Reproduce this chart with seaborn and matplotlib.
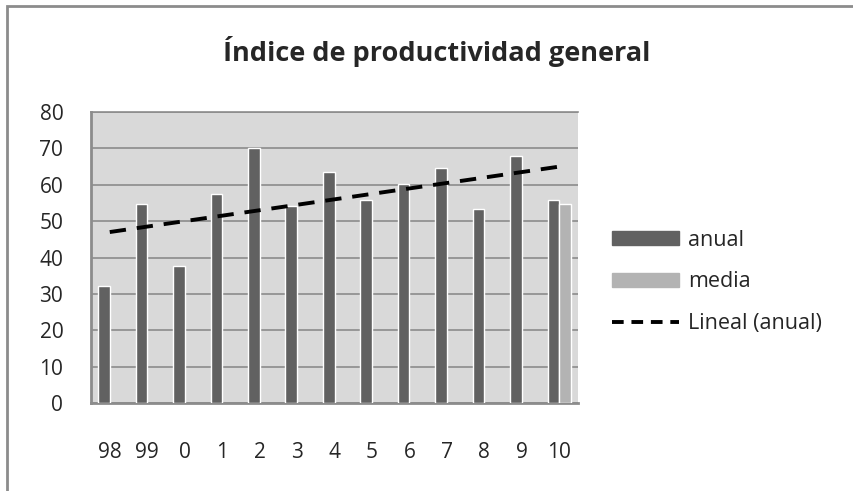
import numpy as np
import pandas as pd
import matplotlib
matplotlib.use('Agg')
import matplotlib.pyplot as plt
import seaborn as sns
from matplotlib.patches import Patch, Rectangle
from matplotlib.lines import Line2D

# datos
anios = ["98", "99", "0", "1", "2", "3", "4", "5", "6", "7", "8", "9", "10"]
anual = [32.3, 54.7, 37.8, 57.5, 70.0, 54.2, 63.6, 55.9, 60.3, 64.6, 53.2, 67.9, 55.9]
media = [np.nan] * 12 + [54.8]

sns.set_theme(style="white")
plt.rcParams['font.family'] = ['Open Sans', 'DejaVu Sans']

df = pd.concat([
    pd.DataFrame({"anio": anios, "valor": anual, "serie": "anual"}),
    pd.DataFrame({"anio": anios, "valor": media, "serie": "media"}),
], ignore_index=True)

fig = plt.figure(figsize=(8.54, 4.91), dpi=100)
ax = fig.add_axes([0.1066, 0.1792, 0.5702, 0.5927])
ax.set_facecolor("#d9d9d9")

sns.barplot(data=df, x="anio", y="valor", hue="serie", order=anios,
            hue_order=["anual", "media"], palette={"anual": "#616161", "media": "#b3b3b3"},
            width=0.62, dodge=True, saturation=1, legend=False, ax=ax, zorder=3)

# linea de tendencia (Lineal anual)
xs = np.arange(len(anios))
m, b = np.polyfit(xs, anual, 1)
ax.plot(xs, m * xs + b, color="black", lw=2.8, ls=(0, (4.2, 2.8)), zorder=4)

ax.set_ylim(0, 80)
ax.set_xlim(-0.5, len(anios) - 0.5)
ax.set_yticks(range(0, 81, 10))
ax.yaxis.grid(True, color="#8c8c8c", lw=1.2)
ax.set_axisbelow(True)
ax.set_xlabel("")
ax.set_ylabel("")
ax.tick_params(axis="y", length=0, pad=20, labelsize=15)
ax.tick_params(axis="x", length=0, pad=28, labelsize=15)
for s in ["left", "bottom"]:
    ax.spines[s].set_color("#8c8c8c")
    ax.spines[s].set_linewidth(2)
ax.spines["top"].set_color("#8c8c8c")
ax.spines["top"].set_linewidth(1.2)
ax.spines["right"].set_visible(False)

fig.text(0.511, 0.896, "Índice de productividad general", ha="center", va="center",
         fontsize=19.5, fontweight="bold")

handles = [Patch(color="#616161"), Patch(color="#b3b3b3"),
           Line2D([0], [0], color="black", lw=2.8, ls=(0, (3, 2)))]
fig.legend(handles, ["anual", "media", "Lineal (anual)"], loc="center left",
           bbox_to_anchor=(0.694, 0.426), frameon=False, fontsize=15.5,
           handlelength=3.1, handleheight=0.6, labelspacing=0.95, handletextpad=0.45)

# borde exterior del grafico
fig.patches.append(Rectangle((7 / 854, -0.1), 1.2, 1 - 6 / 491 + 0.1, transform=fig.transFigure,
                             fill=False, edgecolor="#8c8c8c", lw=2))

fig.savefig("out.png", dpi=100)
